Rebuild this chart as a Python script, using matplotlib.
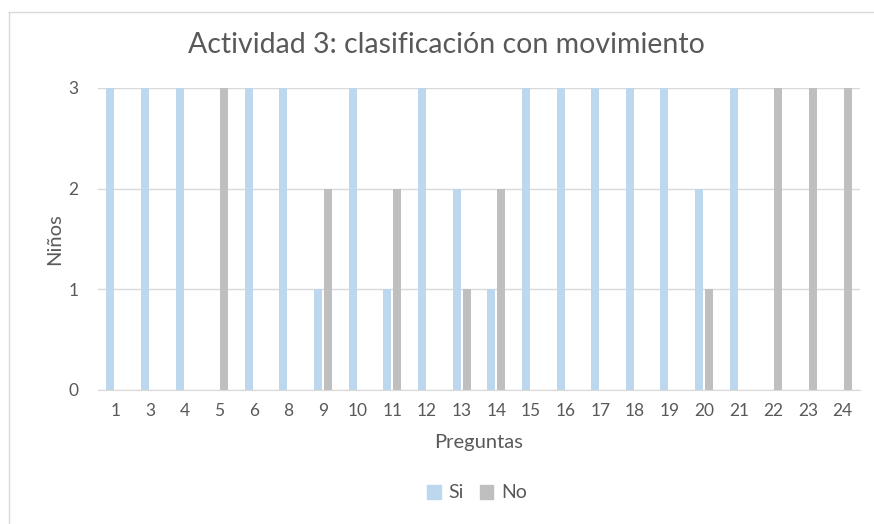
import matplotlib
matplotlib.use("Agg")
import matplotlib.pyplot as plt
import numpy as np
from matplotlib.lines import Line2D
from matplotlib.patches import Patch

preguntas = ["1", "3", "4", "5", "6", "8", "9", "10", "11", "12", "13", "14",
             "15", "16", "17", "18", "19", "20", "21", "22", "23", "24"]
si = [3, 3, 3, 0, 3, 3, 1, 3, 1, 3, 2, 1, 3, 3, 3, 3, 3, 2, 3, 0, 0, 0]
no = [0, 0, 0, 3, 0, 0, 2, 0, 2, 0, 1, 2, 0, 0, 0, 0, 0, 1, 0, 3, 3, 3]
yticks = [0, 1, 2, 3]

plt.rcParams['font.family'] = ['Lato', 'DejaVu Sans']
txt = '#595959'
c_si = '#BDD7EE'
c_no = '#BFBFBF'

fig = plt.figure(figsize=(8.74, 5.24), dpi=100)
ax = fig.add_axes([98/874, 1-390/524, (860-98)/874, (390-88)/524])

x = np.arange(len(preguntas))
w = 0.23
ax.bar(x - 0.145, si, width=w, color=c_si, label='Si', zorder=3)
ax.bar(x + 0.145, no, width=w, color=c_no, label='No', zorder=3)

ax.set_xlim(-0.5, len(preguntas) - 0.5)
ax.set_ylim(0, 3)
ax.set_yticks(yticks)
ax.set_xticks(x)
ax.set_xticklabels(preguntas)
ax.tick_params(axis='both', length=0, colors=txt, labelsize=12.5)
ax.tick_params(axis='x', pad=9)
ax.tick_params(axis='y', pad=14)
ax.grid(axis='y', color='#D9D9D9', linewidth=1, zorder=0)
for s in ['top', 'right', 'left']:
    ax.spines[s].set_visible(False)
ax.spines['bottom'].set_color('#D9D9D9')

ax.set_xlabel('Preguntas', color=txt, fontsize=14.5, labelpad=11)
ax.set_ylabel('Niños', color=txt, fontsize=14.5, labelpad=4)

fig.text(446/874, 1-45/524, 'Actividad 3: clasificación con movimiento',
         ha='center', va='center', fontsize=20.5, color=txt)

handles = [Patch(color=c_si, label='Si'), Patch(color=c_no, label='No')]
leg = fig.legend(handles=handles, loc='center', bbox_to_anchor=(477/874, 1-493/524),
                 ncol=2, frameon=False, fontsize=14, handlelength=0.7, handleheight=0.7,
                 handletextpad=0.4, columnspacing=0.8)
for t in leg.get_texts():
    t.set_color(txt)

fig.add_artist(Line2D([9/874, 9/874], [-0.1, 1-12/524], transform=fig.transFigure, color='#D9D9D9', lw=1))
fig.add_artist(Line2D([9/874, 1.1], [1-12/524, 1-12/524], transform=fig.transFigure, color='#D9D9D9', lw=1))

fig.savefig('out.png', dpi=100)
